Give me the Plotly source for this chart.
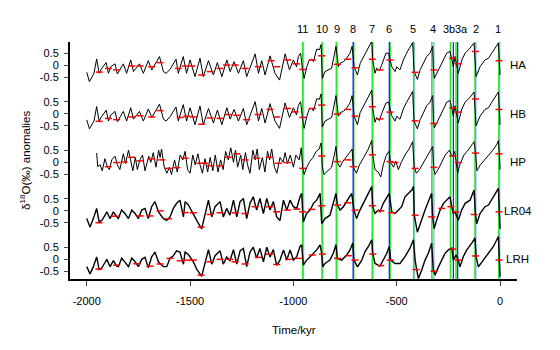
import plotly.graph_objects as go

# time (kyr) / d18O anomaly pairs
ha = [(-2000,-0.29),(-1987,-0.68),(-1965,-0.33),(-1952,0.26),(-1940,-0.33),(-1927,-0.12),(-1906,0.11),(-1895,-0.33),
      (-1884,-0.06),(-1863,0.06),(-1852,-0.36),(-1823,0.06),(-1807,-0.33),(-1787,0.22),(-1774,-0.26),(-1745,0.06),
      (-1726,-0.33),(-1702,0.19),(-1685,-0.19),(-1648,0.36),(-1629,-0.26),(-1616,-0.33),(-1597,-0.17),(-1568,0.25),
      (-1557,-0.33),(-1533,0.36),(-1517,-0.33),(-1500,0.22),(-1476,-0.47),(-1452,0.29),(-1436,-0.47),(-1411,0.19),
      (-1387,-0.40),(-1368,0.11),(-1346,-0.47),(-1322,0.22),(-1306,-0.26),(-1287,0.15),(-1266,-0.33),(-1242,0.19),
      (-1226,-0.47),(-1185,0.47),(-1169,-0.33),(-1153,0.19),(-1137,-0.40),(-1113,0.39),(-1089,-0.33),(-1067,-0.61),
      (-1040,0.47),(-1019,-0.19),(-1000,0.22),(-985,-0.06),(-976,0.36),(-965,0.50),(-956,-0.17),(-948,-0.54),
      (-935,-0.06),(-923,0.22),(-911,0.25),(-903,0.15),(-887,0.67),(-874,0.64),(-866,0.85),(-860,-0.54),(-847,-0.26),
      (-831,-0.19),(-815,-0.12),(-802,0.43),(-794,0.78),(-782,-0.06),(-774,0.08),(-758,0.15),(-745,0.25),(-726,0.50),
      (-716,0.78),(-706,-0.06),(-690,-0.40),(-677,0.08),(-661,0.36),(-645,0.64),(-629,0.92),(-621,0.99),(-616,0.22),
      (-605,-0.33),(-597,-0.12),(-584,-0.22),(-573,0.01),(-565,0.22),(-552,0.50),(-539,0.50),(-524,-0.06),(-508,-0.26),
      (-500,-0.06),(-484,-0.19),(-468,0.22),(-452,0.50),(-435,0.78),(-423,0.94),(-416,-0.26),(-400,-0.58),(-387,-0.19),
      (-371,0.08),(-355,0.36),(-339,0.50),(-326,0.78),(-322,-0.19),(-318,-0.54),(-306,-0.33),(-290,-0.06),(-274,0.22),
      (-258,0.50),(-242,0.57),(-234,0.29),(-226,-0.06),(-218,0.36),(-210,-0.06),(-202,-0.33),(-185,0.22),(-169,0.50),
      (-145,0.71),(-126,0.92),(-116,-0.47),(-97,-0.06),(-73,0.22),(-56,0.29),(-40,0.50),(-24,0.71),(-8,0.92),(0,-0.40)]

hb = [(-2000,-0.25),(-1987,-0.62),(-1965,-0.30),(-1952,0.30),(-1940,-0.30),(-1927,-0.10),(-1906,0.15),(-1895,-0.30),
      (-1884,-0.05),(-1863,0.10),(-1852,-0.33),(-1823,0.10),(-1807,-0.30),(-1787,0.25),(-1774,-0.22),(-1745,0.10),
      (-1726,-0.30),(-1702,0.20),(-1685,-0.15),(-1648,0.40),(-1629,-0.22),(-1616,-0.30),(-1597,-0.12),(-1568,0.28),
      (-1557,-0.30),(-1533,0.38),(-1517,-0.30),(-1500,0.25),(-1476,-0.45),(-1452,0.32),(-1436,-0.45),(-1411,0.22),
      (-1387,-0.38),(-1368,0.15),(-1346,-0.45),(-1322,0.25),(-1306,-0.22),(-1287,0.18),(-1266,-0.30),(-1242,0.22),
      (-1226,-0.45),(-1185,0.50),(-1169,-0.30),(-1153,0.22),(-1137,-0.38),(-1113,0.42),(-1089,-0.30),(-1067,-0.60),
      (-1040,0.45),(-1019,-0.15),(-1000,0.25),(-985,-0.05),(-976,0.35),(-965,0.50),(-956,-0.20),(-948,-0.60),
      (-935,-0.10),(-923,0.20),(-911,0.22),(-903,0.12),(-887,0.62),(-874,0.60),(-866,0.82),(-860,-0.55),(-847,-0.30),
      (-831,-0.22),(-815,-0.15),(-802,0.40),(-794,0.75),(-782,-0.10),(-774,0.05),(-758,0.10),(-745,0.20),(-726,0.45),
      (-716,0.75),(-706,-0.10),(-690,-0.45),(-677,0.05),(-661,0.33),(-645,0.60),(-629,0.90),(-621,0.97),(-616,0.20),
      (-605,-0.35),(-597,-0.15),(-584,-0.28),(-573,0.00),(-565,0.20),(-552,0.45),(-539,0.48),(-524,-0.08),(-508,-0.30),
      (-500,-0.10),(-484,-0.22),(-468,0.20),(-452,0.48),(-435,0.75),(-423,0.92),(-416,-0.30),(-400,-0.62),(-387,-0.25),
      (-371,0.05),(-355,0.33),(-339,0.48),(-326,0.75),(-322,-0.25),(-318,-0.58),(-306,-0.38),(-290,-0.10),(-274,0.20),
      (-258,0.48),(-242,0.55),(-234,0.25),(-226,-0.10),(-218,0.33),(-210,-0.10),(-202,-0.38),(-185,0.20),(-169,0.48),
      (-145,0.68),(-126,0.90),(-116,-0.50),(-97,-0.10),(-73,0.18),(-56,0.25),(-40,0.48),(-24,0.70),(-8,0.90),(0,-0.45)]

hp = [(-1952,0.38),(-1947,-0.18),(-1935,-0.10),(-1925,-0.35),(-1912,0.15),(-1900,-0.20),(-1890,-0.30),(-1879,0.10),
      (-1863,0.25),(-1852,-0.10),(-1840,-0.30),(-1823,0.35),(-1812,-0.05),(-1798,0.50),(-1788,0.10),(-1777,-0.35),
      (-1765,0.20),(-1755,-0.30),(-1743,0.10),(-1730,0.30),(-1718,-0.35),(-1700,0.25),(-1690,0.00),(-1678,0.40),
      (-1665,-0.20),(-1652,0.50),(-1645,0.20),(-1638,0.55),(-1625,-0.20),(-1612,-0.45),(-1600,-0.20),(-1590,-0.50),
      (-1575,0.10),(-1562,-0.40),(-1548,0.30),(-1535,0.10),(-1524,0.45),(-1512,-0.30),(-1500,-0.45),(-1487,0.30),
      (-1475,-0.10),(-1462,0.35),(-1452,-0.10),(-1440,-0.45),(-1428,0.15),(-1415,-0.40),(-1403,0.20),(-1390,-0.35),
      (-1378,0.30),(-1365,-0.40),(-1352,0.10),(-1340,-0.30),(-1328,0.45),(-1315,0.10),(-1303,0.60),(-1290,0.00),
      (-1280,0.50),(-1270,-0.20),(-1255,0.30),(-1245,-0.30),(-1232,0.40),(-1222,-0.10),(-1210,-0.45),(-1196,0.50),
      (-1185,0.10),(-1175,0.55),(-1165,-0.30),(-1150,0.20),(-1138,-0.40),(-1125,0.45),(-1115,0.10),(-1105,0.55),
      (-1092,-0.20),(-1080,-0.45),(-1065,0.20),(-1050,0.00),(-1040,0.40),(-1029,-0.05),(-1015,0.30),(-1000,-0.20),
      (-988,0.30),(-972,0.10),(-962,0.60),(-955,-0.25),(-948,-0.50),(-935,-0.20),(-920,0.05),(-905,0.20),(-890,0.45),
      (-875,0.55),(-866,0.80),(-860,-0.20),(-852,-0.50),(-835,-0.35),(-815,-0.20),(-802,0.30),(-794,0.65),(-787,0.00),
      (-775,-0.20),(-760,0.05),(-745,0.20),(-728,0.40),(-716,0.55),(-710,-0.20),(-695,-0.45),(-680,-0.10),(-660,0.20),
      (-640,0.50),(-621,0.90),(-616,0.30),(-605,-0.30),(-590,-0.40),(-577,-0.60),(-565,-0.10),(-550,0.30),(-537,0.45),
      (-530,0.00),(-515,-0.20),(-505,0.05),(-492,-0.30),(-478,0.00),(-460,0.30),(-440,0.55),(-423,0.85),(-415,-0.20),
      (-405,-0.45),(-390,-0.30),(-370,0.00),(-350,0.30),(-335,0.50),(-326,0.65),(-321,-0.25),(-315,-0.50),(-300,-0.30),
      (-285,-0.05),(-265,0.30),(-245,0.50),(-235,0.30),(-228,0.25),(-220,0.45),(-212,0.00),(-205,-0.45),(-195,-0.10),
      (-175,0.30),(-150,0.55),(-126,0.85),(-118,0.35),(-112,-0.35),(-95,-0.10),(-75,0.10),(-55,0.30),(-35,0.50),
      (-15,0.75),(-8,0.90),(-3,0.30),(0,-0.30)]

lr04 = [(-2000,-0.32),(-1984,-0.67),(-1968,-0.32),(-1952,0.10),(-1940,-0.46),(-1927,-0.39),(-1911,-0.18),(-1903,-0.04),
        (-1887,-0.32),(-1871,-0.04),(-1855,-0.25),(-1847,-0.32),(-1831,0.03),(-1815,-0.11),(-1798,-0.32),(-1782,0.03),
        (-1766,-0.11),(-1750,-0.32),(-1734,0.03),(-1718,0.10),(-1702,-0.32),(-1686,0.17),(-1670,0.38),(-1653,-0.04),
        (-1629,-0.32),(-1613,-0.39),(-1597,-0.25),(-1581,0.10),(-1565,0.31),(-1549,0.44),(-1532,-0.25),(-1524,0.38),
        (-1508,0.24),(-1484,-0.18),(-1468,-0.39),(-1444,-0.74),(-1428,-0.11),(-1411,0.44),(-1395,-0.25),(-1379,0.17),
        (-1355,0.38),(-1339,-0.25),(-1323,0.10),(-1307,-0.18),(-1290,0.44),(-1274,-0.25),(-1258,0.38),(-1242,0.51),
        (-1226,-0.32),(-1210,0.31),(-1194,0.58),(-1178,0.03),(-1162,0.51),(-1145,-0.11),(-1129,0.51),(-1113,0.03),
        (-1097,0.38),(-1081,-0.25),(-1065,-0.40),(-1048,0.44),(-1032,0.03),(-1016,0.44),(-1000,0.17),(-984,0.10),
        (-968,0.58),(-960,0.72),(-952,-0.46),(-936,-0.11),(-919,0.03),(-903,0.31),(-887,0.44),(-871,0.72),(-863,-0.53),
        (-847,-0.32),(-823,-0.18),(-807,0.31),(-794,0.72),(-787,0.24),(-774,0.03),(-758,0.17),(-742,0.38),(-726,0.58),
        (-718,0.72),(-707,0.03),(-694,-0.32),(-678,0.03),(-653,0.44),(-637,0.72),(-621,1.00),(-616,0.17),(-605,-0.11),
        (-589,0.03),(-581,-0.04),(-565,0.31),(-548,0.58),(-536,0.72),(-524,-0.04),(-508,-0.11),(-492,0.03),(-476,0.17),
        (-460,0.58),(-444,0.72),(-427,0.86),(-419,1.00),(-415,-0.18),(-400,-0.88),(-387,-0.53),(-363,0.03),(-347,0.38),
        (-331,0.72),(-326,-0.25),(-319,-0.74),(-307,-0.39),(-290,0.03),(-274,0.31),(-258,0.44),(-242,0.58),(-234,0.17),
        (-226,-0.11),(-218,-0.04),(-202,-0.39),(-186,0.03),(-169,0.31),(-145,0.44),(-126,0.86),(-119,-0.18),(-113,-0.53),
        (-97,-0.11),(-73,0.17),(-56,0.24),(-32,0.58),(-8,0.93),(0,-0.74)]

lrh = [(-2000,-0.30),(-1984,-0.60),(-1968,-0.30),(-1952,0.10),(-1940,-0.42),(-1927,-0.35),(-1911,-0.12),(-1903,0.00),
       (-1887,-0.30),(-1871,-0.05),(-1855,-0.28),(-1847,-0.30),(-1831,0.05),(-1815,-0.10),(-1798,-0.30),(-1782,0.05),
       (-1766,-0.10),(-1750,-0.30),(-1734,0.00),(-1718,0.08),(-1702,-0.35),(-1686,0.10),(-1670,0.30),(-1653,-0.10),
       (-1629,-0.30),(-1613,-0.30),(-1597,0.05),(-1581,0.15),(-1565,0.35),(-1549,0.30),(-1532,-0.20),(-1524,0.30),
       (-1508,0.20),(-1484,-0.10),(-1468,-0.40),(-1444,-0.70),(-1428,-0.10),(-1411,0.40),(-1395,-0.20),(-1379,0.15),
       (-1355,0.35),(-1339,-0.20),(-1323,0.10),(-1307,-0.05),(-1290,0.40),(-1274,-0.20),(-1258,0.35),(-1242,0.45),
       (-1226,-0.30),(-1210,0.30),(-1194,0.50),(-1178,0.05),(-1162,0.45),(-1145,-0.10),(-1129,0.50),(-1113,0.10),
       (-1097,0.40),(-1081,-0.25),(-1065,-0.03),(-1048,0.39),(-1032,-0.03),(-1016,0.39),(-1000,-0.03),(-984,0.11),
       (-968,0.53),(-960,0.60),(-952,-0.24),(-936,-0.03),(-911,0.18),(-887,0.39),(-871,0.60),(-863,0.25),(-858,-0.31),
       (-847,-0.17),(-823,-0.03),(-807,0.25),(-794,0.60),(-787,0.04),(-766,-0.03),(-742,0.18),(-726,0.39),(-713,0.67),
       (-707,-0.03),(-690,-0.31),(-669,-0.03),(-653,0.32),(-637,0.53),(-621,0.81),(-616,0.25),(-605,-0.17),(-581,-0.28),
       (-565,-0.03),(-548,0.25),(-536,0.53),(-529,-0.03),(-508,-0.17),(-484,-0.17),(-460,0.11),(-436,0.46),(-419,0.81),
       (-411,-0.03),(-403,-0.44),(-395,-0.79),(-379,-0.44),(-363,-0.03),(-347,0.25),(-331,0.67),(-323,-0.44),(-315,-0.65),
       (-298,-0.31),(-282,-0.03),(-266,0.25),(-250,0.39),(-234,0.46),(-226,-0.03),(-213,0.18),(-202,-0.03),(-194,-0.31),
       (-178,0.11),(-161,0.39),(-137,0.67),(-121,0.88),(-116,0.11),(-105,-0.31),(-81,-0.03),(-56,0.25),(-32,0.53),
       (-8,0.94),(-5,-0.03),(0,-0.72)]

# red dashes on each record
ha_marks = [(-1939,-0.28),(-1895,-0.13),(-1855,-0.19),(-1782,-0.03),(-1742,-0.03),(-1686,-0.06),(-1645,0.11),
            (-1557,-0.13),(-1524,-0.03),(-1492,-0.03),(-1444,-0.40),(-1403,-0.26),(-1355,-0.13),(-1323,0.01),
            (-1282,0.01),(-1234,-0.13),(-1169,-0.06),(-1108,0.19),(-1081,-0.06),(-1028,0.22),(-985,0.06),(-955,-0.17),
            (-908,0.22),(-863,0.39),(-787,0.04),(-737,0.25),(-702,-0.10),(-618,0.25),(-581,-0.19),(-533,0.22),
            (-411,-0.29),(-320,-0.19),(-229,0.29),(-202,0.06),(-119,0.57),(-5,0.19)]
hb_marks = [(-1940,-0.31),(-1895,-0.19),(-1855,-0.24),(-1782,-0.13),(-1742,-0.08),(-1686,-0.13),(-1645,0.13),
            (-1548,-0.15),(-1516,-0.10),(-1484,-0.13),(-1444,-0.43),(-1403,-0.17),(-1355,-0.19),(-1315,-0.03),
            (-1274,-0.06),(-1226,-0.24),(-1170,-0.03),(-1113,0.18),(-1081,-0.13),(-1029,0.22),(-992,0.08),(-955,-0.15),
            (-908,0.22),(-863,0.36),(-787,-0.01),(-737,0.18),(-702,-0.10),(-618,0.29),(-581,-0.21),(-533,0.07),
            (-411,-0.29),(-320,-0.40),(-229,0.24),(-202,0.07),(-119,0.61),(-5,0.18)]
hp_marks = [(-1896,-0.18),(-1855,-0.01),(-1819,0.01),(-1783,0.21),(-1743,0.06),(-1686,0.14),(-1637,0.10),
            (-1605,-0.25),(-1564,-0.22),(-1524,0.17),(-1452,-0.04),(-1428,-0.04),(-1403,-0.14),(-1355,-0.14),
            (-1315,0.21),(-1274,0.35),(-1234,0.10),(-1178,0.17),(-1116,0.21),(-1073,-0.04),(-1029,-0.01),(-955,-0.25),
            (-863,0.26),(-787,0.03),(-737,0.10),(-710,-0.18),(-618,0.31),(-533,0.03),(-508,-0.01),(-411,-0.25),
            (-320,-0.21),(-229,0.26),(-202,-0.01),(-119,0.38),(-5,0.35)]
lr04_marks = [(-1941,-0.49),(-1863,-0.22),(-1742,-0.21),(-1694,-0.21),(-1645,0.00),(-1605,-0.33),(-1524,-0.07),
              (-1484,-0.08),(-1447,-0.67),(-1403,-0.15),(-1355,-0.08),(-1282,-0.08),(-1234,-0.11),(-1185,0.17),
              (-1116,0.17),(-1081,-0.04),(-1029,0.03),(-984,0.07),(-955,-0.04),(-911,0.06),(-863,0.21),(-787,0.24),
              (-737,0.33),(-702,0.03),(-618,0.21),(-577,0.00),(-523,-0.08),(-411,-0.18),(-331,-0.25),(-282,0.10),
              (-238,0.17),(-214,-0.04),(-125,-0.15),(-5,-0.04)]
lrh_marks = [(-1941,-0.40),(-1855,-0.24),(-1758,-0.18),(-1694,-0.28),(-1645,-0.19),(-1597,0.04),(-1548,-0.06),
             (-1516,-0.03),(-1484,-0.03),(-1447,-0.65),(-1403,-0.10),(-1355,0.00),(-1307,0.00),(-1282,-0.10),
             (-1234,-0.19),(-1170,0.08),(-1116,0.21),(-1081,-0.21),(-1024,0.00),(-976,0.04),(-908,0.18),(-860,0.22),
             (-787,0.04),(-734,0.15),(-702,-0.03),(-616,0.22),(-577,-0.26),(-532,-0.03),(-406,-0.42),(-319,-0.49),
             (-229,0.42),(-202,-0.03),(-119,0.14),(-5,-0.03)]

names = ["HA", "HB", "HP", "LR04", "LRH"]
records = [ha, hb, hp, lr04, lrh]
marks = [ha_marks, hb_marks, hp_marks, lr04_marks, lrh_marks]

# terminations
term_names = ["11", "10", "9", "8", "7", "6", "5", "4", "3b", "3a", "2", "1"]
term_label_x = [-955, -861, -789, -711, -619, -537, -421, -324, -247, -189, -116, -10]
green_ages = [-955, -861, -792, -708, -618, -532, -418, -330, -240, -213, -121, -6]
blue_ages = [-711, -536, -226, -205]
lightblue_ages = [-952, -859, -790, -616, -416, -321, -118, -3]

time_ticks = [-2000, -1500, -1000, -500, 0]

offsets = [8, 6, 4, 2, 0]
widths = [1, 1, 1, 1.4, 1.4]

fig = go.Figure()

shapes = []
for a in lightblue_ages:
    shapes.append(dict(type="line", xref="x", yref="paper", x0=a, x1=a, y0=0, y1=1,
                       line=dict(color="rgba(110,130,255,0.55)", width=2), layer="below"))
for a in green_ages:
    shapes.append(dict(type="line", xref="x", yref="paper", x0=a, x1=a, y0=0, y1=1,
                       line=dict(color="rgb(40,230,40)", width=1.5), layer="below"))
for a in blue_ages:
    shapes.append(dict(type="line", xref="x", yref="paper", x0=a, x1=a, y0=0, y1=1,
                       line=dict(color="rgb(20,20,255)", width=1.2), layer="below"))

for name, rec, mk, off, w in zip(names, records, marks, offsets, widths):
    fig.add_trace(go.Scatter(x=[p[0] for p in rec], y=[p[1] + off for p in rec], mode="lines",
                             line=dict(color="black", width=w), name=name, showlegend=False))
    fig.add_trace(go.Scatter(x=[p[0] for p in mk], y=[p[1] + off for p in mk], mode="markers",
                             marker=dict(symbol="line-ew", size=5, line=dict(color="red", width=1.5)),
                             showlegend=False))

tickvals = []
ticktext = []
for off in offsets:
    for d, s in [(-0.5, "-0.5"), (0, "0"), (0.5, "0.5")]:
        tickvals.append(off + d)
        ticktext.append(s)

annotations = []
for lab, x in zip(term_names, term_label_x):
    annotations.append(dict(x=x, y=1.055, xref="x", yref="paper", text=lab, showarrow=False,
                            xanchor="center", yanchor="middle", font=dict(size=11)))
for name, off in zip(names, offsets):
    annotations.append(dict(x=1.002, y=off, xref="paper", yref="y", text=name, showarrow=False,
                            xanchor="center", yanchor="middle", font=dict(size=11.5)))
annotations.append(dict(x=-0.102, y=0.5, xref="paper", yref="paper", textangle=-90, showarrow=False,
                        xanchor="center", yanchor="middle",
                        text="\u03b4<sup>18</sup>O(\u2030) anomalies", font=dict(size=11.5)))
annotations.append(dict(x=0.5, y=-0.215, xref="paper", yref="paper", showarrow=False,
                        xanchor="center", yanchor="middle", text="Time/kyr", font=dict(size=11.5)))

# page body adds an 8px margin, so the figure is drawn 8px smaller and shifted
fig.update_layout(
    width=552, height=342,
    margin=dict(l=62, r=43, t=34, b=71),
    paper_bgcolor="white", plot_bgcolor="white",
    font=dict(family="Liberation Sans", size=11, color="black"),
    shapes=shapes, annotations=annotations,
    xaxis=dict(range=[-2081, 82], tickvals=time_ticks, ticktext=[str(t) for t in time_ticks],
               ticks="outside", ticklen=5, tickwidth=1, ticklabelstandoff=6,
               showgrid=False, zeroline=False,
               showline=True, linecolor="black", linewidth=2),
    yaxis=dict(range=[-0.81, 8.96], tickvals=tickvals, ticktext=ticktext,
               ticks="outside", ticklen=4, tickwidth=1, ticklabelstandoff=3,
               showgrid=False, zeroline=False,
               showline=True, linecolor="black", linewidth=2),
)

fig.write_html("out.html")
